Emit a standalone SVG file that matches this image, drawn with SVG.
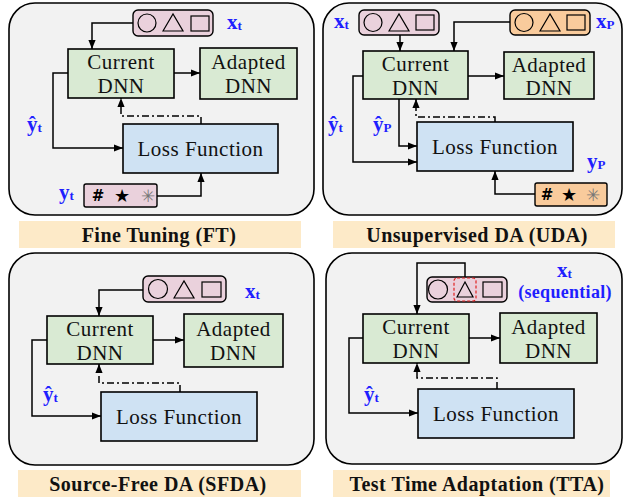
<svg xmlns="http://www.w3.org/2000/svg" width="624" height="498" viewBox="0 0 624 498">
<defs>
<marker id="ah" viewBox="0 0 10 10" refX="10" refY="5" markerWidth="9" markerHeight="9" markerUnits="userSpaceOnUse" orient="auto"><path d="M0,1 L10,5 L0,9 z" fill="#000"/></marker>
<style>
.panel{fill:#f2f2f2;stroke:#000;stroke-width:1.6}
.cur{fill:#d9ead3;stroke:#000;stroke-width:1.6}
.loss{fill:#cfe2f3;stroke:#000;stroke-width:1.6}
.pink{fill:#ead1dc;stroke:#000;stroke-width:1.4}
.orng{fill:#f9cb9c;stroke:#000;stroke-width:1.4}
.sym{fill:none;stroke:#000;stroke-width:1.2}
.title{fill:#fdeac8}
.tt{font-family:"Liberation Serif",serif;font-weight:bold;font-size:20px;letter-spacing:0.5px;text-anchor:middle;fill:#111}
.bt{font-family:"Liberation Serif",serif;font-size:21px;letter-spacing:0.5px;text-anchor:middle;fill:#111}
.lb{font-family:"Liberation Serif",serif;font-weight:bold;font-size:21px;fill:#1f1fff}
.sub{font-size:13px}
.sq{font-family:"Liberation Serif",serif;font-weight:bold;font-size:18px;letter-spacing:0.3px;fill:#1f1fff;text-anchor:middle}
.ln{fill:none;stroke:#000;stroke-width:1.5}
.dd{fill:none;stroke:#000;stroke-width:1.5;stroke-dasharray:7 3 2 3}
.hs{font-family:"DejaVu Sans",sans-serif;font-weight:bold;font-size:15px;text-anchor:middle;fill:#000}
.st{font-family:"DejaVu Sans",sans-serif;font-size:18px;text-anchor:middle;fill:#000}
.ast{font-family:"DejaVu Sans",sans-serif;font-size:17px;text-anchor:middle;fill:#777}
</style>
</defs>

<!-- Panels -->
<g id="panel-ft"><rect class="panel" x="9" y="3" width="305" height="212" rx="26"/></g>
<g id="panel-uda"><rect class="panel" x="323" y="3" width="299" height="212" rx="26"/></g>
<g id="panel-sfda"><rect class="panel" x="9" y="253" width="305" height="212" rx="26"/></g>
<g id="panel-tta"><rect class="panel" x="326" y="253" width="296" height="211" rx="26"/></g>

<!-- Connectors -->
<g id="connectors">
<path class="ln" d="M133 23 H92 V49" marker-end="url(#ah)"/>
<path class="ln" d="M174 73 H200" marker-end="url(#ah)"/>
<path class="ln" d="M68 73 H53 V148 H123" marker-end="url(#ah)"/>
<path class="dd" d="M201 124 V116 H121 V98" marker-end="url(#ah)"/>
<path class="ln" d="M157 196 H201 V173" marker-end="url(#ah)"/>

<path class="ln" d="M400 35 V51" marker-end="url(#ah)"/>
<path class="ln" d="M510 22 H454 V51" marker-end="url(#ah)"/>
<path class="ln" d="M468 76 H504" marker-end="url(#ah)"/>
<path class="ln" d="M363 76 H353 V162 H417" marker-end="url(#ah)"/>
<path class="ln" d="M399 99 V146 H417" marker-end="url(#ah)"/>
<path class="dd" d="M495 122 V117 H416 V99" marker-end="url(#ah)"/>
<path class="ln" d="M535 194 H495 V171" marker-end="url(#ah)"/>

<path class="ln" d="M143 290 H99 V316" marker-end="url(#ah)"/>
<path class="ln" d="M153 340 H184" marker-end="url(#ah)"/>
<path class="ln" d="M47 340 H32 V416 H101" marker-end="url(#ah)"/>
<path class="dd" d="M180 392 V383 H99 V364" marker-end="url(#ah)"/>

<path class="ln" d="M465 277 V263 H417 V314" marker-end="url(#ah)"/>
<path class="ln" d="M469 338 H500" marker-end="url(#ah)"/>
<path class="ln" d="M363 338 H349 V413 H418" marker-end="url(#ah)"/>
<path class="dd" d="M497 389 V378 H417 V363" marker-end="url(#ah)"/>
</g>

<!-- FT nodes -->
<g id="ft-xt">
<rect class="pink" x="133" y="10" width="80" height="26" rx="5"/>
<circle class="sym" cx="147" cy="23" r="9"/>
<path class="sym" d="M163 31 L173 14 L183 31 Z"/>
<rect class="sym" x="191" y="16" width="18" height="15"/>
<text class="lb" x="227" y="29">x<tspan class="sub" dy="1">t</tspan></text>
</g>
<g id="ft-current"><rect class="cur" x="68" y="49" width="106" height="49"/><text class="bt" x="121" y="69">Current</text><text class="bt" x="121" y="93">DNN</text></g>
<g id="ft-adapted"><rect class="cur" x="200" y="48" width="97" height="51"/><text class="bt" x="248.5" y="69">Adapted</text><text class="bt" x="248.5" y="93">DNN</text></g>
<g id="ft-loss"><rect class="loss" x="123" y="124" width="155" height="49"/><text class="bt" x="200.5" y="156">Loss Function</text></g>
<g id="ft-yt">
<rect class="pink" x="84" y="184" width="73" height="23" rx="2"/>
<text class="hs" x="98" y="201">#</text><text class="st" x="122" y="202">★</text><text class="ast" x="148" y="202">✳</text>
<text class="lb" x="59" y="199">y<tspan class="sub" dy="1">t</tspan></text>
</g>
<g id="ft-yhat"><text class="lb" x="27" y="131">ŷ<tspan class="sub" dy="1">t</tspan></text></g>
<g id="ft-title"><rect class="title" x="19" y="221" width="282" height="27"/><text class="tt" x="159" y="242">Fine Tuning (FT)</text></g>

<!-- UDA nodes -->
<g id="uda-xt">
<rect class="pink" x="359" y="10" width="80" height="25" rx="5"/>
<circle class="sym" cx="373" cy="22.5" r="9"/>
<path class="sym" d="M389 31 L399 14 L409 31 Z"/>
<rect class="sym" x="416" y="15" width="18" height="15"/>
<text class="lb" x="334" y="28">x<tspan class="sub" dy="1">t</tspan></text>
</g>
<g id="uda-xp">
<rect class="orng" x="510" y="10" width="80" height="25" rx="5"/>
<circle class="sym" cx="524" cy="22.5" r="9"/>
<path class="sym" d="M540 31 L550 14 L560 31 Z"/>
<rect class="sym" x="567" y="15" width="18" height="15"/>
<text class="lb" x="596" y="28">x<tspan class="sub" dy="1">P</tspan></text>
</g>
<g id="uda-current"><rect class="cur" x="363" y="51" width="105" height="48"/><text class="bt" x="415.5" y="71">Current</text><text class="bt" x="415.5" y="95">DNN</text></g>
<g id="uda-adapted"><rect class="cur" x="504" y="52" width="90" height="47"/><text class="bt" x="549" y="72">Adapted</text><text class="bt" x="549" y="95">DNN</text></g>
<g id="uda-loss"><rect class="loss" x="417" y="122" width="156" height="49"/><text class="bt" x="495" y="154">Loss Function</text></g>
<g id="uda-yp">
<rect class="orng" x="535" y="183" width="72" height="23" rx="2"/>
<text class="hs" x="547" y="200">#</text><text class="st" x="569" y="201">★</text><text class="ast" x="593" y="201">✳</text>
<text class="lb" x="587" y="168">y<tspan class="sub" dy="1">P</tspan></text>
</g>
<g id="uda-yhat-t"><text class="lb" x="328" y="131">ŷ<tspan class="sub" dy="1">t</tspan></text></g>
<g id="uda-yhat-p"><text class="lb" x="373" y="131">ŷ<tspan class="sub" dy="1">P</tspan></text></g>
<g id="uda-title"><rect class="title" x="333" y="221" width="282" height="27"/><text class="tt" x="477" y="242">Unsupervised DA (UDA)</text></g>

<!-- SFDA nodes -->
<g id="sfda-xt">
<rect class="pink" x="143" y="276" width="83" height="26" rx="5"/>
<circle class="sym" cx="158" cy="289" r="9.5"/>
<path class="sym" d="M174 298 L184 281 L194 298 Z"/>
<rect class="sym" x="202" y="282" width="19" height="15"/>
<text class="lb" x="245" y="298">x<tspan class="sub" dy="1">t</tspan></text>
</g>
<g id="sfda-current"><rect class="cur" x="47" y="316" width="106" height="48"/><text class="bt" x="100" y="336">Current</text><text class="bt" x="100" y="360">DNN</text></g>
<g id="sfda-adapted"><rect class="cur" x="184" y="314" width="99" height="53"/><text class="bt" x="233.5" y="336">Adapted</text><text class="bt" x="233.5" y="360">DNN</text></g>
<g id="sfda-loss"><rect class="loss" x="101" y="392" width="156" height="49"/><text class="bt" x="179" y="424">Loss Function</text></g>
<g id="sfda-yhat"><text class="lb" x="43" y="401">ŷ<tspan class="sub" dy="1">t</tspan></text></g>
<g id="sfda-title"><rect class="title" x="18" y="470" width="283" height="27"/><text class="tt" x="158" y="491">Source-Free DA (SFDA)</text></g>

<!-- TTA nodes -->
<g id="tta-xt">
<rect class="pink" x="427" y="277" width="80" height="25" rx="5"/>
<circle class="sym" cx="438" cy="289.5" r="9.5"/>
<rect x="454" y="278" width="22" height="23" rx="3" fill="none" stroke="#e02020" stroke-width="1.2" stroke-dasharray="3 2"/>
<path class="sym" d="M457 297 L465 282 L473 297 Z"/>
<rect class="sym" x="483" y="282" width="19" height="15"/>
<text class="lb" x="557" y="277">x<tspan class="sub" dy="1">t</tspan></text>
<text class="sq" x="565" y="298">(sequential)</text>
</g>
<g id="tta-current"><rect class="cur" x="363" y="314" width="106" height="49"/><text class="bt" x="416" y="334">Current</text><text class="bt" x="416" y="358">DNN</text></g>
<g id="tta-adapted"><rect class="cur" x="500" y="313" width="97" height="50"/><text class="bt" x="548.5" y="334">Adapted</text><text class="bt" x="548.5" y="358">DNN</text></g>
<g id="tta-loss"><rect class="loss" x="418" y="389" width="156" height="49"/><text class="bt" x="496" y="421">Loss Function</text></g>
<g id="tta-yhat"><text class="lb" x="364" y="401">ŷ<tspan class="sub" dy="1">t</tspan></text></g>
<g id="tta-title"><rect class="title" x="333" y="470" width="277" height="27"/><text class="tt" x="477" y="491">Test Time Adaptation (TTA)</text></g>
</svg>
